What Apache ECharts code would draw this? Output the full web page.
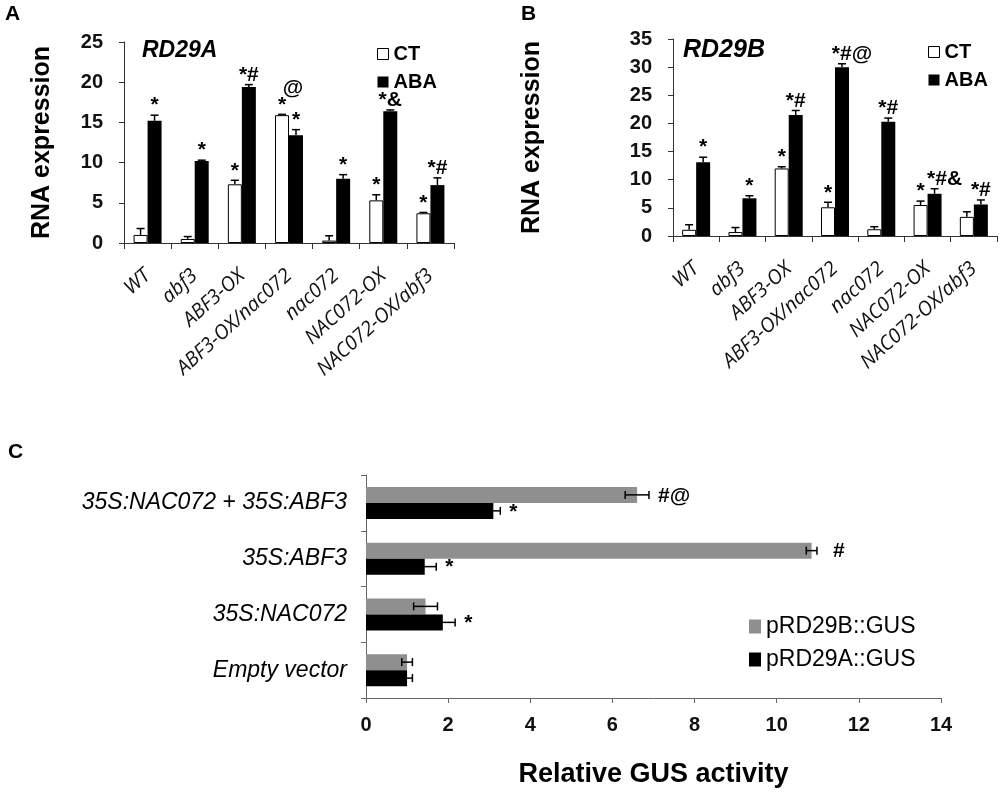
<!DOCTYPE html>
<html>
<head>
<meta charset="utf-8">
<script src="https://cdn.jsdelivr.net/npm/echarts@6/dist/echarts.min.js"></script>
<style>
  html, body { margin: 0; padding: 0; background: #fff; }
  #main { width: 1000px; height: 792px; }
</style>
</head>
<body>
<div id="main"></div>
<script>
// panel A / B : genotypes
var genotypes = ['WT', 'abf3', 'ABF3-OX', 'ABF3-OX/nac072', 'nac072', 'NAC072-OX', 'NAC072-OX/abf3'];

// RD29A
var rd29aCT = [1.0, 0.5, 7.3, 15.9, 0.3, 5.3, 3.7];
var rd29aCTErr = [0.8, 0.3, 0.5, 0.1, 0.6, 0.7, 0.1];
var rd29aABA = [15.2, 10.2, 19.4, 13.4, 8.0, 16.4, 7.2];
var rd29aABAErr = [0.7, 0.1, 0.3, 0.7, 0.5, 0.15, 0.9];
var rd29aCTMarks = ['', '', '*', '*', '', '*', '*'];
var rd29aABAMarks = ['*', '*', '*#', '*', '*', '*&', '*#'];
var rd29aGroupMarks = ['', '', '', '@', '', '', ''];

// RD29B
var rd29bCT = [1.1, 0.7, 12.0, 5.1, 1.2, 5.5, 3.4];
var rd29bCTErr = [0.9, 0.8, 0.3, 0.9, 0.45, 0.7, 0.9];
var rd29bABA = [13.1, 6.7, 21.5, 30.0, 20.3, 7.5, 5.6];
var rd29bABAErr = [0.9, 0.45, 0.8, 0.6, 0.65, 0.9, 0.8];
var rd29bCTMarks = ['', '', '*', '*', '', '*', ''];
var rd29bABAMarks = ['*', '*', '*#', '*#@', '*#', '*#&', '*#'];

// panel C : GUS assay
var constructs = ['Empty vector', '35S:NAC072', '35S:ABF3', '35S:NAC072 + 35S:ABF3'];
var gusB = [1.0, 1.45, 10.85, 6.6];
var gusBErr = [0.13, 0.29, 0.13, 0.29];
var gusA = [1.0, 1.87, 1.43, 3.1];
var gusAErr = [0.13, 0.3, 0.28, 0.17];
var gusBMarks = ['', '', '#', '#@'];
var gusAMarks = ['', '*', '*', '*'];

var yTicksA = [0, 5, 10, 15, 20, 25];
var yTicksB = [0, 5, 10, 15, 20, 25, 30, 35];
var xTicksC = [0, 2, 4, 6, 8, 10, 12, 14];

var FONT = '"Liberation Sans", Arial, sans-serif';
var BAR_W = 14;
var BAR_H = 16;

function markFont() {
    return 'bold 21px ' + FONT;
}

// vertical error bar (upper half) + significance text
function vErr(vals, errs, marks, shift, groupMarks) {
    return function (params, api) {
        var i = params.dataIndex;
        var base = api.coord([i, vals[i]]);
        var top = api.coord([i, vals[i] + errs[i]]);
        var x = base[0] + shift;
        var kids = [
            {type: 'line', shape: {x1: x, y1: base[1], x2: x, y2: top[1]}, style: {stroke: '#000', lineWidth: 1.5}},
            {type: 'line', shape: {x1: x - 4, y1: top[1], x2: x + 4, y2: top[1]}, style: {stroke: '#000', lineWidth: 1.5}}
        ];
        if (marks[i]) {
            var nx = x;
            if (marks[i].length > 2) nx = x + 10;
            kids.push({type: 'text', style: {text: marks[i], x: nx, y: top[1] + 1, align: 'center', verticalAlign: 'bottom', font: markFont(), fill: '#000'}});
        }
        if (groupMarks && groupMarks[i]) {
            kids.push({type: 'text', style: {text: groupMarks[i], x: base[0] + 4, y: top[1] - 16, align: 'center', verticalAlign: 'bottom', font: markFont(), fill: '#000'}});
        }
        return {type: 'group', children: kids};
    };
}

// horizontal error bar + text
function hErr(vals, errs, marks, shift) {
    return function (params, api) {
        var i = params.dataIndex;
        var lo = api.coord([vals[i] - errs[i], i]);
        var hi = api.coord([vals[i] + errs[i], i]);
        var y = lo[1] + shift;
        var kids = [
            {type: 'line', shape: {x1: lo[0], y1: y, x2: hi[0], y2: y}, style: {stroke: '#000', lineWidth: 1.5}},
            {type: 'line', shape: {x1: lo[0], y1: y - 4, x2: lo[0], y2: y + 4}, style: {stroke: '#000', lineWidth: 1.5}},
            {type: 'line', shape: {x1: hi[0], y1: y - 4, x2: hi[0], y2: y + 4}, style: {stroke: '#000', lineWidth: 1.5}}
        ];
        if (marks[i]) {
            var gap = marks[i] === '#' ? 16 : 9;
            kids.push({type: 'text', style: {text: marks[i], x: hi[0] + gap, y: y + 1, align: 'left', verticalAlign: 'middle', font: markFont(), fill: '#000'}});
        }
        return {type: 'group', children: kids};
    };
}

function pairs(vals, errs) {
    return vals.map(function (v, i) { return [i, v + errs[i]]; });
}

function pairsH(vals, errs) {
    return vals.map(function (v, i) { return [v + errs[i], i]; });
}

function catAxis(idx) {
    return {
        type: 'category',
        gridIndex: idx,
        data: genotypes,
        axisLine: {lineStyle: {color: '#333', width: 1}},
        axisTick: {show: true, length: 6, lineStyle: {color: '#333'}},
        axisLabel: {
            interval: 0, rotate: 42, margin: 30,
            fontFamily: '"Open Sans", sans-serif', fontStyle: 'italic',
            fontSize: 20, color: '#111'
        }
    };
}

function valAxis(idx, ticks, gap) {
    return {
        type: 'value',
        gridIndex: idx,
        min: ticks[0], max: ticks[ticks.length - 1], interval: ticks[1] - ticks[0],
        name: 'RNA expression',
        nameLocation: 'middle',
        nameGap: gap,
        nameTextStyle: {fontFamily: FONT, fontWeight: 'bold', fontSize: 25, color: '#000'},
        splitLine: {show: false},
        axisLine: {show: true, lineStyle: {color: '#333', width: 1}},
        axisTick: {show: true, length: 5, lineStyle: {color: '#333'}},
        axisLabel: {fontFamily: FONT, fontWeight: 'bold', fontSize: 20, color: '#111', margin: 21}
    };
}

function initChart() {
    var chart = echarts.init(document.getElementById('main'));
    var option = {
        animation: false,
        textStyle: {fontFamily: FONT},
        title: [
            {text: 'A', left: 5, top: 4, padding: 0, textStyle: {fontSize: 21, fontWeight: 'bold', color: '#000'}},
            {text: 'B', left: 521, top: 4, padding: 0, textStyle: {fontSize: 21, fontWeight: 'bold', color: '#000'}},
            {text: 'C', left: 8, top: 442, padding: 0, textStyle: {fontSize: 21, fontWeight: 'bold', color: '#000'}},
            {text: 'RD29A', left: 142, top: 39, padding: 0, textStyle: {fontSize: 23, fontWeight: 'bold', fontStyle: 'italic', color: '#000'}},
            {text: 'RD29B', left: 683, top: 38, padding: 0, textStyle: {fontSize: 25, fontWeight: 'bold', fontStyle: 'italic', color: '#000'}}
        ],
        legend: [
            {
                orient: 'vertical', left: 377, top: 44, padding: 0,
                itemWidth: 11, itemHeight: 11, itemGap: 8,
                textStyle: {fontSize: 20, fontWeight: 'bold', color: '#000', lineHeight: 20},
                data: [
                    {name: 'CT', icon: 'rect', itemStyle: {color: '#fff', borderColor: '#000', borderWidth: 1}},
                    {name: 'ABA', icon: 'rect', itemStyle: {color: '#000'}}
                ]
            },
            {
                orient: 'vertical', left: 928, top: 42, padding: 0,
                itemWidth: 11, itemHeight: 11, itemGap: 8,
                textStyle: {fontSize: 20, fontWeight: 'bold', color: '#000', lineHeight: 20},
                data: [
                    {name: 'CT', icon: 'rect', itemStyle: {color: '#fff', borderColor: '#000', borderWidth: 1}},
                    {name: 'ABA', icon: 'rect', itemStyle: {color: '#000'}}
                ]
            },
            {
                orient: 'vertical', left: 749, top: 615, padding: 0,
                itemWidth: 12, itemHeight: 14, itemGap: 10,
                textStyle: {fontSize: 23, color: '#000', lineHeight: 23},
                data: [
                    {name: 'pRD29B::GUS', icon: 'rect'},
                    {name: 'pRD29A::GUS', icon: 'rect'}
                ]
            }
        ],
        grid: [
            {left: 124, right: 546, top: 42, bottom: 549},
            {left: 673, right: 3, top: 39, bottom: 556},
            {left: 366, right: 59, top: 475, bottom: 94}
        ],
        xAxis: [
            catAxis(0),
            catAxis(1),
            {
                type: 'value',
                gridIndex: 2,
                min: xTicksC[0], max: xTicksC[xTicksC.length - 1], interval: xTicksC[1] - xTicksC[0],
                name: 'Relative GUS activity',
                nameLocation: 'middle',
                nameGap: 63,
                nameTextStyle: {fontFamily: FONT, fontWeight: 'bold', fontSize: 27, color: '#000'},
                splitLine: {show: false},
                axisLine: {show: true, lineStyle: {color: '#666'}},
                axisTick: {show: true, length: 5, lineStyle: {color: '#666'}},
                axisLabel: {fontFamily: FONT, fontWeight: 'bold', fontSize: 20, color: '#111', margin: 17}
            }
        ],
        yAxis: [
            valAxis(0, yTicksA, 69),
            valAxis(1, yTicksB, 128),
            {
                type: 'category',
                gridIndex: 2,
                data: constructs,
                axisLine: {lineStyle: {color: '#666'}},
                axisTick: {show: true, length: 5, lineStyle: {color: '#666'}},
                axisLabel: {fontFamily: FONT, fontStyle: 'italic', fontSize: 23, color: '#000', margin: 19}
            }
        ],
        series: [
            {name: 'CT', type: 'bar', xAxisIndex: 0, yAxisIndex: 0, data: rd29aCT, barWidth: BAR_W, barGap: '0%',
                itemStyle: {color: '#fff', borderColor: '#000', borderWidth: 1}},
            {name: 'ABA', type: 'bar', xAxisIndex: 0, yAxisIndex: 0, data: rd29aABA, barWidth: BAR_W, barGap: '0%',
                itemStyle: {color: '#000'}},
            {name: 'CT', type: 'bar', xAxisIndex: 1, yAxisIndex: 1, data: rd29bCT, barWidth: BAR_W, barGap: '0%',
                itemStyle: {color: '#fff', borderColor: '#000', borderWidth: 1}},
            {name: 'ABA', type: 'bar', xAxisIndex: 1, yAxisIndex: 1, data: rd29bABA, barWidth: BAR_W, barGap: '0%',
                itemStyle: {color: '#000'}},
            {name: 'pRD29B::GUS', type: 'bar', xAxisIndex: 2, yAxisIndex: 2, data: gusB, barWidth: BAR_H, barGap: '0%',
                itemStyle: {color: '#8f8f8f'}},
            {name: 'pRD29A::GUS', type: 'bar', xAxisIndex: 2, yAxisIndex: 2, data: gusA, barWidth: BAR_H, barGap: '0%',
                itemStyle: {color: '#000'}},

            {name: 'errA1', type: 'custom', xAxisIndex: 0, yAxisIndex: 0, z: 5, data: pairs(rd29aCT, rd29aCTErr),
                renderItem: vErr(rd29aCT, rd29aCTErr, rd29aCTMarks, -BAR_W / 2, rd29aGroupMarks)},
            {name: 'errA2', type: 'custom', xAxisIndex: 0, yAxisIndex: 0, z: 5, data: pairs(rd29aABA, rd29aABAErr),
                renderItem: vErr(rd29aABA, rd29aABAErr, rd29aABAMarks, BAR_W / 2)},
            {name: 'errB1', type: 'custom', xAxisIndex: 1, yAxisIndex: 1, z: 5, data: pairs(rd29bCT, rd29bCTErr),
                renderItem: vErr(rd29bCT, rd29bCTErr, rd29bCTMarks, -BAR_W / 2)},
            {name: 'errB2', type: 'custom', xAxisIndex: 1, yAxisIndex: 1, z: 5, data: pairs(rd29bABA, rd29bABAErr),
                renderItem: vErr(rd29bABA, rd29bABAErr, rd29bABAMarks, BAR_W / 2)},
            {name: 'errC1', type: 'custom', xAxisIndex: 2, yAxisIndex: 2, z: 5, data: pairsH(gusB, gusBErr),
                renderItem: hErr(gusB, gusBErr, gusBMarks, -BAR_H / 2)},
            {name: 'errC2', type: 'custom', xAxisIndex: 2, yAxisIndex: 2, z: 5, data: pairsH(gusA, gusAErr),
                renderItem: hErr(gusA, gusAErr, gusAMarks, BAR_H / 2)}
        ]
    };
    chart.setOption(option);
}

initChart();
</script>
</body>
</html>
